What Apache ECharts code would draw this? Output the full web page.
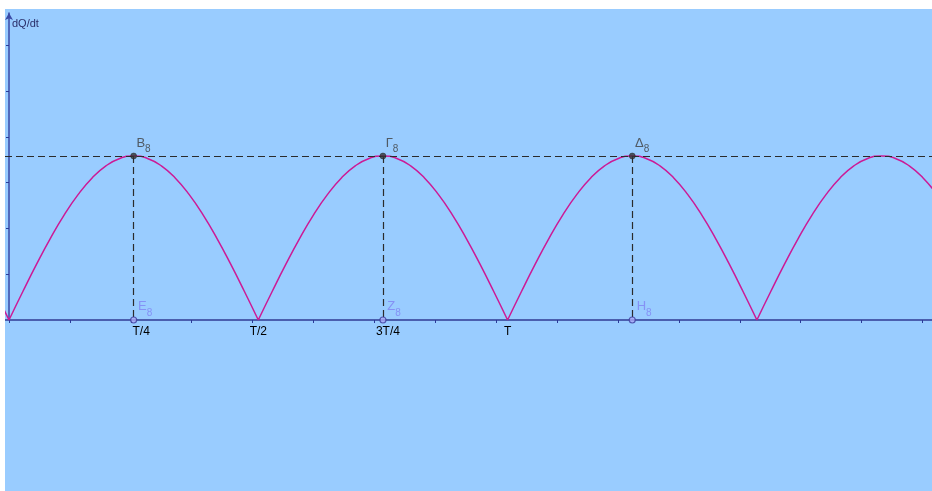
<!DOCTYPE html>
<html>
<head>
<meta charset="utf-8">
<script src="https://cdn.jsdelivr.net/npm/echarts@6/dist/echarts.min.js"></script>
<style>
  html, body { margin: 0; padding: 0; background: #ffffff; }
  #chart { position: absolute; left: 5px; top: 9px; width: 927px; height: 482px; }
</style>
</head>
<body>
<div id="chart"></div>
<script>
// time, in units of the period T
const tValues = [-0.0278, 0, 0.0278, 0.0556, 0.0833, 0.1111, 0.1389, 0.1667, 0.1944, 0.2222, 0.25,
  0.2778, 0.3056, 0.3333, 0.3611, 0.3889, 0.4167, 0.4444, 0.4722, 0.5,
  0.5278, 0.5556, 0.5833, 0.6111, 0.6389, 0.6667, 0.6944, 0.7222, 0.75,
  0.7778, 0.8056, 0.8333, 0.8611, 0.8889, 0.9167, 0.9444, 0.9722, 1.0,
  1.0278, 1.0556, 1.0833, 1.1111, 1.1389, 1.1667, 1.1944, 1.2222, 1.25,
  1.2778, 1.3056, 1.3333, 1.3611, 1.3889, 1.4167, 1.4444, 1.4722, 1.5,
  1.5278, 1.5556, 1.5833, 1.6111, 1.6389, 1.6667, 1.6944, 1.7222, 1.75,
  1.7778, 1.8056, 1.8333, 1.8611];
// dQ/dt (axis-tick units)
const dqValues = [0.622, 0, 0.622, 1.225, 1.790, 2.302, 2.743, 3.101, 3.365, 3.527, 3.581,
  3.527, 3.365, 3.101, 2.743, 2.302, 1.790, 1.225, 0.622, 0,
  0.622, 1.225, 1.790, 2.302, 2.743, 3.101, 3.365, 3.527, 3.581,
  3.527, 3.365, 3.101, 2.743, 2.302, 1.790, 1.225, 0.622, 0,
  0.622, 1.225, 1.790, 2.302, 2.743, 3.101, 3.365, 3.527, 3.581,
  3.527, 3.365, 3.101, 2.743, 2.302, 1.790, 1.225, 0.622, 0,
  0.622, 1.225, 1.790, 2.302, 2.743, 3.101, 3.365, 3.527, 3.581,
  3.527, 3.365, 3.101, 2.743];
const peakValue = 3.581;
const peakT = [0.25, 0.75, 1.25];
const peakNames = ['B', 'Γ', 'Δ'];
const footNames = ['E', 'Z', 'H'];
const subscript = '8';
const xLabelValues = [0.25, 0.5, 0.75, 1];
const xLabelTexts = ['T/4', 'T/2', '3T/4', 'T'];
const xTickValues = [0, 0.1221, 0.2443, 0.3664, 0.4886, 0.6107, 0.7328, 0.8550, 0.9771,
  1.0992, 1.2214, 1.3435, 1.4657, 1.5878, 1.7099, 1.8321];
const yTickValues = [1, 2, 3, 4, 5, 6];

// build the curve, breaking it at each zero so every arch is smoothed on its own
const curve = [];
tValues.forEach((t, i) => {
  const p = [t, dqValues[i]];
  curve.push(p);
  if (dqValues[i] === 0 && i > 0 && i < tValues.length - 1) {
    curve.push('-');
    curve.push(p.slice());
  }
});
const peaks = peakT.map((t, i) => ({ value: [t, peakValue], name: peakNames[i] }));
const feet = peakT.map((t, i) => ({ value: [t, 0], name: footNames[i] }));

const chart = echarts.init(document.getElementById('chart'));
const FONT = 'Liberation Sans, Arial, sans-serif';
const dash = { type: [7, 4], color: '#2b2b2b', width: 1.2 };

chart.setOption({
  backgroundColor: '#99ccff',
  animation: false,
  title: {
    text: 'dQ/dt', left: 7, top: 9, padding: 0,
    textStyle: { fontSize: 11, fontWeight: 'normal', color: '#2a2f6a', fontFamily: FONT }
  },
  grid: { left: 0, right: 0, top: 4, bottom: 171 },
  xAxis: {
    type: 'value', min: -0.00802, max: 1.85118,
    axisLine: { onZero: true, lineStyle: { color: '#4a5eae', width: 2 } },
    axisTick: { show: true, customValues: xTickValues, length: 3, lineStyle: { color: '#2b3a98', width: 1 } },
    axisLabel: {
      customValues: xLabelValues, margin: 6, color: '#000', fontSize: 12, fontFamily: FONT,
      formatter: function (v) {
        const i = xLabelValues.indexOf(v);
        const txt = i >= 0 ? xLabelTexts[i] : '';
        if (txt === 'T/4') return '{a|' + txt + '}';
        if (txt === '3T/4') return '{b|' + txt + '}';
        return txt;
      },
      rich: {
        a: { fontSize: 12, color: '#000', fontFamily: FONT, padding: [0, 0, 0, 15] },
        b: { fontSize: 12, color: '#000', fontFamily: FONT, padding: [0, 0, 0, 10] }
      }
    },
    splitLine: { show: false }
  },
  yAxis: {
    type: 'value', min: 0, max: 6.703,
    axisLine: { show: true, onZero: true, symbol: ['none', 'arrow'], symbolSize: [6, 7], symbolOffset: [0, 0],
      lineStyle: { color: '#3a4aa6', width: 1.5 } },
    axisTick: { show: true, customValues: yTickValues, length: 3, lineStyle: { color: '#2b3a98', width: 1 } },
    axisLabel: { show: false },
    splitLine: { show: false }
  },
  series: [
    {
      type: 'line', data: curve, showSymbol: false, symbol: 'none', smooth: 0.5, connectNulls: false,
      lineStyle: { color: '#cc1a96', width: 1.5 }, clip: true, z: 3,
      markLine: {
        silent: true, symbol: ['none', 'none'], label: { show: false },
        lineStyle: dash,
        data: [{ yAxis: peakValue }].concat(peakT.map(t => [{ coord: [t, peakValue] }, { coord: [t, 0] }]))
      }
    },
    {
      type: 'scatter', data: peaks, symbolSize: 6, clip: false, z: 5,
      itemStyle: { color: '#333333', borderColor: '#1a1a1a', borderWidth: 0.5 },
      label: {
        show: true, position: [6, -16],
        formatter: p => '{m|' + p.name + '}{s|' + subscript + '}',
        rich: {
          m: { fontSize: 13, color: '#3d3d3d', fontFamily: FONT, verticalAlign: 'top' },
          s: { fontSize: 10, color: '#3d3d3d', fontFamily: FONT, verticalAlign: 'top', padding: [8, 0, 0, 0] }
        }
      }
    },
    {
      type: 'scatter', data: feet, symbolSize: 6, clip: false, z: 5,
      itemStyle: { color: '#a9a9f5', borderColor: '#3c3c9c', borderWidth: 1.2 },
      label: {
        show: true, position: [8, -16],
        formatter: p => '{m|' + p.name + '}{s|' + subscript + '}',
        rich: {
          m: { fontSize: 13, color: '#7f82f2', fontFamily: FONT, verticalAlign: 'top' },
          s: { fontSize: 10, color: '#7f82f2', fontFamily: FONT, verticalAlign: 'top', padding: [8, 0, 0, 0] }
        }
      }
    }
  ]
});
</script>
</body>
</html>
